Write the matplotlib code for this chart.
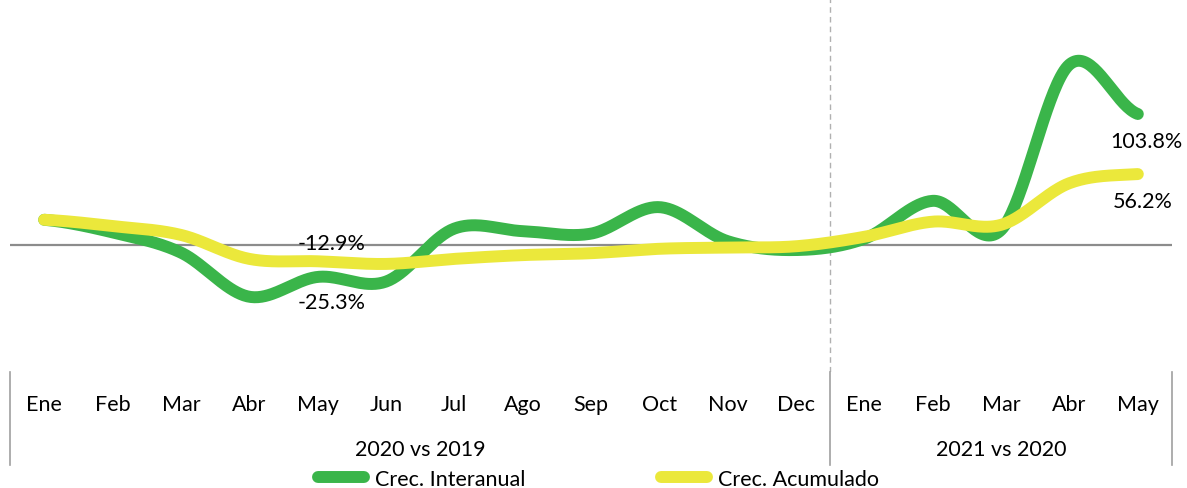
import numpy as np
import matplotlib
matplotlib.use("Agg")
import matplotlib.pyplot as plt
from matplotlib.transforms import blended_transform_factory
from matplotlib.lines import Line2D

plt.rcParams['font.family'] = ['Lato', 'DejaVu Sans']

months = ['Ene', 'Feb', 'Mar', 'Abr', 'May', 'Jun', 'Jul', 'Ago', 'Sep', 'Oct', 'Nov', 'Dec',
          'Ene', 'Feb', 'Mar', 'Abr', 'May']
groups = ['2020 vs 2019', '2021 vs 2020']
group_sizes = [12, 5]
interanual = [20, 10, -6, -41, -25.3, -29, 13, 11, 9, 30, 3, -4, 5, 35, 12, 143, 103.8]
acumulado = [20, 15, 8, -11, -12.9, -15, -11, -8, -6.5, -3, -2, -1, 6.5, 18.5, 16, 49, 56.2]

GREEN = '#3AB54A'
YELLOW = '#EBE83B'


def smooth(y, n=40):
    y = np.asarray(y, float)
    x = np.arange(len(y), dtype=float)
    xs, ys = [], []
    for i in range(len(y) - 1):
        y0 = y[i - 1] if i > 0 else y[i]
        y3 = y[i + 2] if i + 2 < len(y) else y[i + 1]
        p0, p3 = y[i], y[i + 1]
        p1 = p0 + (p3 - y0) / 6
        p2 = p3 - (y3 - p0) / 6
        t = np.linspace(0, 1, n)
        b = (1 - t) ** 3 * p0 + 3 * (1 - t) ** 2 * t * p1 + 3 * (1 - t) * t ** 2 * p2 + t ** 3 * p3
        xs.append(x[i] + t)
        ys.append(b)
    return np.concatenate(xs), np.concatenate(ys)


W, H = 1187, 489
fig = plt.figure(figsize=(W / 100, H / 100), dpi=100)
left_px, right_px, top_px, bot_px = 10, 1172, 0, 373
ax = fig.add_axes([left_px / W, 1 - bot_px / H, (right_px - left_px) / W, (bot_px - top_px) / H])
ax.set_xlim(-0.5, len(months) - 0.5)
zero_px = 246
scale = 1.262  # px per %
ax.set_ylim(-(bot_px - zero_px) / scale, zero_px / scale)
ax.axis('off')

ax.axhline(0, color='#8c8c8c', lw=1.6, zorder=1)
ax.axvline(11.5, color='#b0b0b0', lw=1.0, ls=(0, (4, 3)), zorder=1)

xg, yg = smooth(interanual)
xa, ya = smooth(acumulado)
ax.plot(xg, yg, color=GREEN, lw=8.6, solid_capstyle='round', zorder=3, label='Crec. Interanual')
ax.plot(xa, ya, color=YELLOW, lw=8.6, solid_capstyle='round', zorder=4, label='Crec. Acumulado')

fs = 15.5
ax.annotate(f'{acumulado[4]:.1f}%', (4, acumulado[4]), xytext=(14, 18), textcoords='offset pixels',
            ha='center', va='center', fontsize=fs, zorder=5)
ax.annotate(f'{interanual[4]:.1f}%', (4, interanual[4]), xytext=(14, -25), textcoords='offset pixels',
            ha='center', va='center', fontsize=fs, zorder=5)
ax.annotate(f'{interanual[16]:.1f}%', (16, interanual[16]), xytext=(9, -27), textcoords='offset pixels',
            ha='center', va='center', fontsize=fs, zorder=5)
ax.annotate(f'{acumulado[16]:.1f}%', (16, acumulado[16]), xytext=(5, -27), textcoords='offset pixels',
            ha='center', va='center', fontsize=fs, zorder=5)

# category axis
tr = blended_transform_factory(ax.transData, fig.transFigure)
def fy(px):
    return 1 - px / H

for i, m in enumerate(months):
    fig.text(i, fy(405), m, transform=tr, ha='center', va='center', fontsize=fs)

start = 0
bounds = [-0.5]
for g, n in zip(groups, group_sizes):
    center = start + (n - 1) / 2
    fig.text(center, fy(450), g, transform=tr, ha='center', va='center', fontsize=fs)
    start += n
    bounds.append(start - 0.5)

for b in bounds:
    fig.add_artist(Line2D([b, b], [fy(373), fy(466)], transform=tr, color='#a0a0a0', lw=1.2))

handles, labels = ax.get_legend_handles_labels()
fig.legend(handles, labels, loc='center', bbox_to_anchor=(0.504, fy(480)), ncol=2, frameon=False,
           fontsize=fs, handlelength=2.15, columnspacing=6.3, handletextpad=0.5, borderpad=0)

fig.savefig('out.png', dpi=100)
